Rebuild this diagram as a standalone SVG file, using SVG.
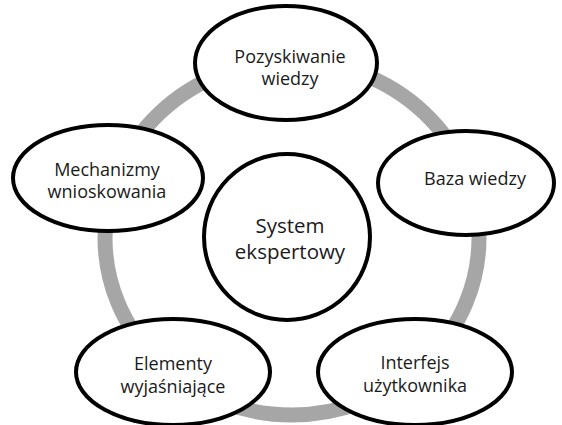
<svg xmlns="http://www.w3.org/2000/svg" width="562" height="425" viewBox="0 0 562 425">
<style>
.ring{fill:none;stroke:#a6a6a6;stroke-width:15}
.node{fill:#ffffff;stroke:#000000;stroke-width:4}
.lbl{font-family:"Open Sans","Liberation Sans",sans-serif;font-size:18px;fill:#1a1a1a;text-anchor:middle}
.big{font-size:20.5px}
</style>
<rect width="562" height="425" fill="#ffffff"/>
<g id="connectors">
<ellipse class="ring" cx="292" cy="238" rx="187" ry="177"/>
</g>
<g id="center">
<circle class="node" cx="287" cy="237" r="83"/>
<text class="lbl big" x="290" y="233">System</text>
<text class="lbl big" x="290" y="259">ekspertowy</text>
</g>
<g id="pozyskiwanie">
<ellipse class="node" cx="286" cy="63" rx="91" ry="57"/>
<text class="lbl" x="290" y="63">Pozyskiwanie</text>
<text class="lbl" x="290" y="85">wiedzy</text>
</g>
<g id="mechanizmy">
<ellipse class="node" cx="108" cy="178" rx="95" ry="53"/>
<text class="lbl" x="107" y="176">Mechanizmy</text>
<text class="lbl" x="107" y="198">wnioskowania</text>
</g>
<g id="baza">
<ellipse class="node" cx="466" cy="183" rx="88" ry="52"/>
<text class="lbl" x="475" y="185">Baza wiedzy</text>
</g>
<g id="elementy">
<ellipse class="node" cx="173" cy="372" rx="97" ry="53"/>
<text class="lbl" x="173" y="370">Elementy</text>
<text class="lbl" x="173" y="393">wyjaśniające</text>
</g>
<g id="interfejs">
<ellipse class="node" cx="415" cy="372" rx="97" ry="53"/>
<text class="lbl" x="415" y="369">Interfejs</text>
<text class="lbl" x="415" y="392">użytkownika</text>
</g>
</svg>
